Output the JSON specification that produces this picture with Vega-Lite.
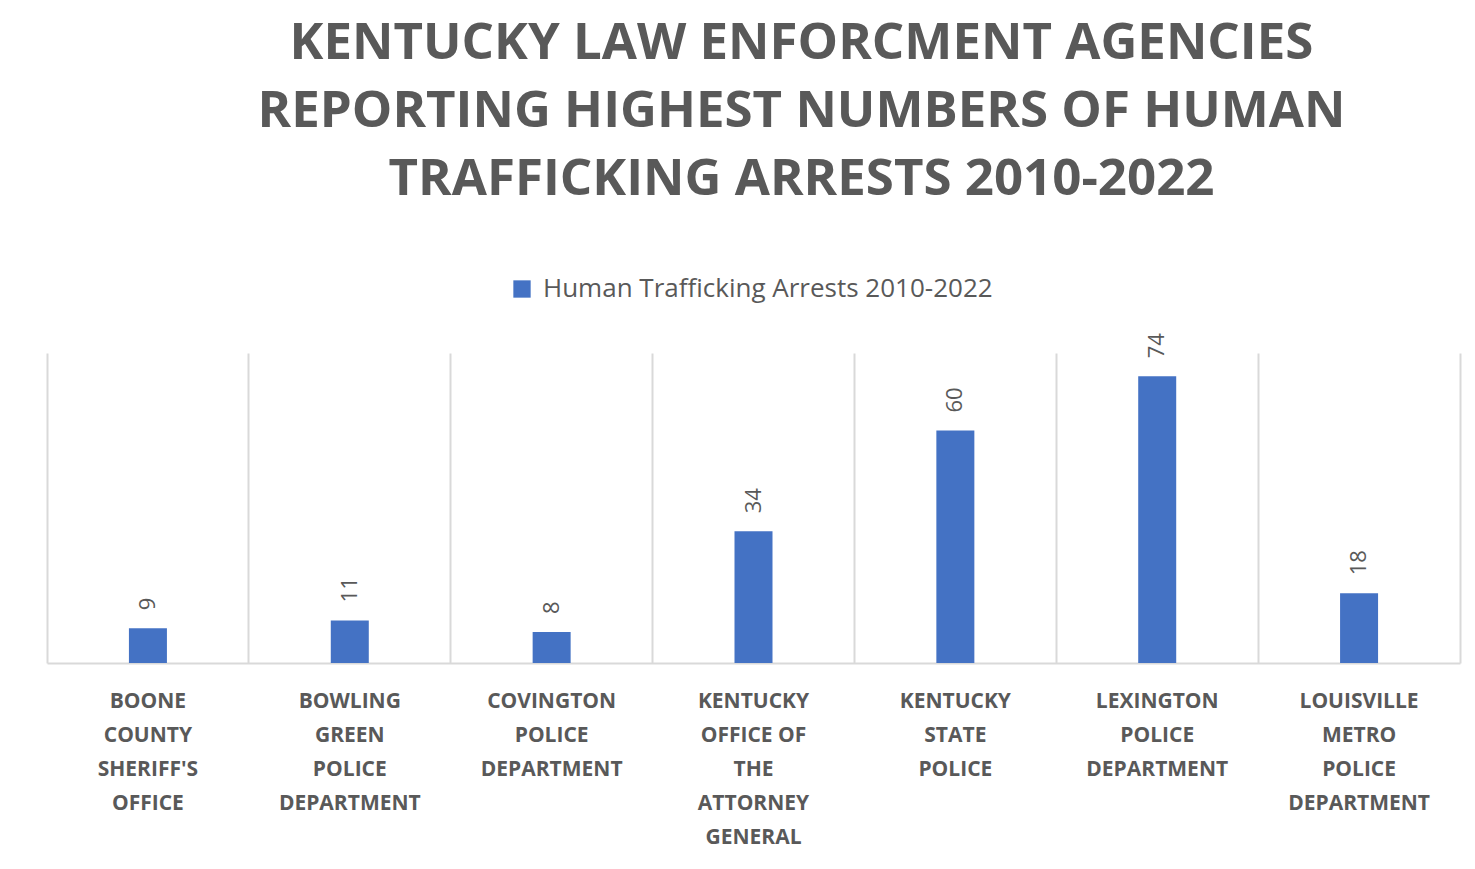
{
  "$schema": "https://vega.github.io/schema/vega-lite/v6.json",
  "autosize": "none",
  "padding": {"left": 47, "top": 353, "right": 15, "bottom": 206},
  "width": 1413,
  "height": 310,
  "background": "white",
  "title": {
    "text": ["KENTUCKY LAW ENFORCMENT AGENCIES", "REPORTING HIGHEST NUMBERS OF HUMAN", "TRAFFICKING ARRESTS 2010-2022"],
    "font": "Open Sans",
    "fontSize": 51,
    "fontWeight": "bold",
    "color": "#595959",
    "lineHeight": 68,
    "anchor": "middle",
    "dx": 48,
    "offset": 70
  },
  "data": {
    "values": [
      {"agency": "BOONE COUNTY SHERIFF'S OFFICE", "arrests": 9},
      {"agency": "BOWLING GREEN POLICE DEPARTMENT", "arrests": 11},
      {"agency": "COVINGTON POLICE DEPARTMENT", "arrests": 8},
      {"agency": "KENTUCKY OFFICE OF THE ATTORNEY GENERAL", "arrests": 34},
      {"agency": "KENTUCKY STATE POLICE", "arrests": 60},
      {"agency": "LEXINGTON POLICE DEPARTMENT", "arrests": 74},
      {"agency": "LOUISVILLE METRO POLICE DEPARTMENT", "arrests": 18}
    ]
  },
  "encoding": {
    "x": {
      "field": "agency",
      "type": "nominal",
      "sort": null,
      "scale": {"paddingInner": 0, "paddingOuter": 0},
      "axis": {
        "title": null,
        "labelAngle": 0,
        "labelExpr": "split(replace(datum.label, 'OFFICE OF', 'OFFICE\u00a0OF'), ' ')",
        "labelFont": "Open Sans",
        "labelFontSize": 21,
        "labelFontWeight": "bold",
        "labelColor": "#595959",
        "labelLineHeight": 34,
        "labelPadding": 27,
        "labelBaseline": "top",
        "labelLimit": 400,
        "ticks": false,
        "grid": true,
        "bandPosition": 0,
        "gridColor": "#d9d9d9",
        "gridWidth": 2,
        "domainColor": "#d9d9d9",
        "domainWidth": 2
      }
    },
    "y": {
      "field": "arrests",
      "type": "quantitative",
      "scale": {"domain": [0, 80]},
      "axis": {
        "orient": "right",
        "title": null,
        "labels": false,
        "ticks": false,
        "grid": false,
        "domain": true,
        "domainColor": "#d9d9d9",
        "domainWidth": 2
      }
    }
  },
  "layer": [
    {
      "mark": {"type": "bar", "width": 38},
      "encoding": {
        "color": {
          "datum": "Human Trafficking Arrests 2010-2022",
          "type": "nominal",
          "scale": {"range": ["#4472c4"]},
          "legend": {
            "title": null,
            "orient": "none",
            "legendX": 462,
            "legendY": -77,
            "symbolType": "square",
            "symbolSize": 300,
            "symbolStrokeWidth": 0,
            "labelFont": "Open Sans",
            "labelFontSize": 26,
            "labelColor": "#595959",
            "labelLimit": 600,
            "labelOffset": 8
          }
        }
      }
    },
    {
      "mark": {
        "type": "text",
        "angle": 270,
        "align": "left",
        "baseline": "middle",
        "dx": 18,
        "font": "Open Sans",
        "fontSize": 22,
        "color": "#595959"
      },
      "encoding": {
        "text": {"field": "arrests", "type": "quantitative"}
      }
    }
  ],
  "config": {
    "view": {"stroke": null}
  }
}
